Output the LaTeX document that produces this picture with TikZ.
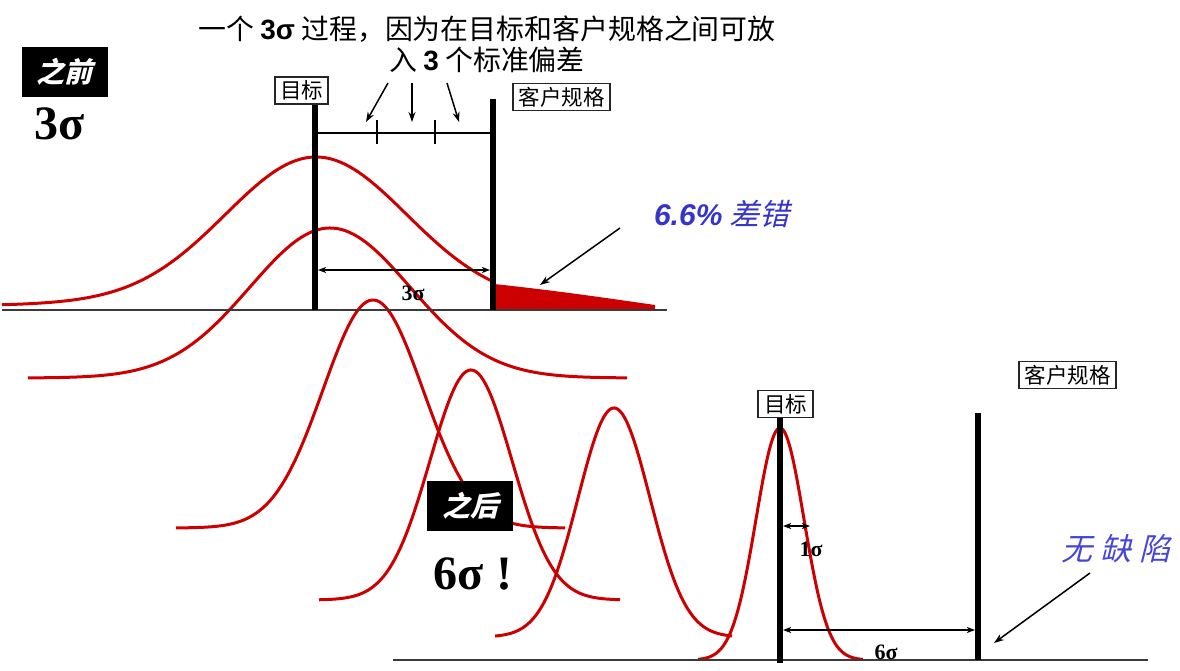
\documentclass[tikz,border=0pt]{standalone}
\usepackage{fontspec}
\setmainfont{Liberation Serif}
\newfontfamily\cjk{Noto Sans CJK SC}
\newfontfamily\cjkslant[FakeSlant=0.25]{Noto Sans CJK SC}
\newfontfamily\arialfont{Liberation Sans}
\usepackage{tikz}
\usetikzlibrary{arrows.meta,positioning}
\definecolor{sixred}{HTML}{CC0000}
\definecolor{noteblue}{HTML}{3535C8}
\definecolor{okblue}{HTML}{4646D6}
\definecolor{axisgray}{HTML}{3A3A3A}

\tikzset{
	bell/.style={draw=sixred,line width=3pt},
	limit/.style={line width=6pt},
	axis/.style={draw=axisgray,line width=2.4pt},
	tagbox/.style={draw=black!85,line width=1.6pt,fill=white,inner xsep=5pt,inner ysep=0pt,minimum height=27pt,font=\cjk\fontsize{21.5}{24}\selectfont},
	stagebox/.style={fill=black,text=white,minimum width=86pt,minimum height=50pt,font=\cjkslant\bfseries\fontsize{28}{30}\selectfont},
	bigsigma/.style={font=\bfseries\fontsize{48}{50}\selectfont,inner sep=0pt},
	smallsigma/.style={font=\bfseries\fontsize{22}{24}\selectfont,inner sep=0pt},
	pointer/.style={-{Stealth[length=10pt,width=7pt]},line width=1.5pt},
	dimarrow/.style={{Stealth[length=8pt,width=6pt,inset=2pt]}-{Stealth[length=8pt,width=6pt,inset=2pt]},line width=1.4pt},
	note/.style={inner sep=0pt}
}

\begin{document}
\begin{tikzpicture}[x=1pt,y=-1pt]
	
	\useasboundingbox (0,0) rectangle (1180,671);
	
	% drifting curves
	\draw[bell] plot[domain=2:494,samples=150]
	(\x,{307-150*(0.95*exp(-0.5*((\x-316)/90)*((\x-316)/90))+0.05*exp(-0.5*((\x-316)/190)*((\x-316)/190)))});
	\draw[bell] plot[domain=28:627,samples=150]
	(\x,{378-150*exp(-0.5*((\x-330)/80)*((\x-330)/80))});
	\draw[bell] plot[domain=176:565,samples=150]
	(\x,{528-228*exp(-0.5*((\x-373)/50)*((\x-373)/50))});
	\draw[bell] plot[domain=319:620,samples=150]
	(\x,{600-230*exp(-0.5*((\x-471)/41)*((\x-471)/41))});
	\draw[bell] plot[domain=495:732,samples=150]
	(\x,{637-229*exp(-0.5*((\x-614)/36)*((\x-614)/36))});
	\draw[bell] plot[domain=698:863,samples=150]
	(\x,{660-232*exp(-0.5*((\x-780)/24)*((\x-780)/24))});
	
	% out of spec tail
	\fill[sixred] (494,284) .. controls (560,291) and (620,300) .. (655,305)
	-- (655,310) -- (494,310) -- cycle;
	
	% axes
	\coordinate (axisAl) at (2,310);
	\coordinate (axisAr) at (667,310);
	\coordinate (axisBl) at (393,660);
	\coordinate (axisBr) at (1148,660);
	\draw[axis] (axisAl) -- (axisAr);
	\draw[axis] (axisBl) -- (axisBr);
	
	% target and spec limits
	\coordinate (tgtAtop) at (315,103);
	\coordinate (tgtAbot) at (315,310);
	\coordinate (limAtop) at (493,99);
	\coordinate (limAbot) at (493,310);
	\coordinate (tgtBtop) at (780,418);
	\coordinate (tgtBbot) at (780,663);
	\coordinate (limBtop) at (978,413);
	\coordinate (limBbot) at (978,660);
	\draw[limit] (tgtAtop) -- (tgtAbot);
	\draw[limit] (limAtop) -- (limAbot);
	\draw[limit] (tgtBtop) -- (tgtBbot);
	\draw[limit] (limBtop) -- (limBbot);
	
	% three sigma scale
	\coordinate (scaleL) at (318,133);
	\coordinate (scaleR) at (490,133);
	\draw[line width=1.4pt] (scaleL) -- (scaleR);
	\foreach \t/\tx in {1/377,2/435}{
		\coordinate (tick\t) at (\tx,133);
		\draw[line width=1.4pt] ([yshift=-11pt]tick\t) -- ([yshift=13pt]tick\t);
	}
	
	% dimension arrows
	\coordinate (dimAl) at (318,270);
	\coordinate (dimAr) at (490,270);
	\coordinate (oneL) at (783,526);
	\coordinate (oneR) at (810,526);
	\coordinate (sixL) at (783,630);
	\coordinate (sixR) at (975,630);
	\draw[dimarrow] (dimAl) -- (dimAr);
	\draw[dimarrow] (oneL) -- (oneR);
	\draw[dimarrow] (sixL) -- (sixR);
	\node[smallsigma] (threelbl) at (413,293) {3σ};
	\node[smallsigma] (onelbl) at (811,549) {1σ};
	\node[smallsigma] (sixlbl) at (886,652) {6σ};
	
	% labels
	\node[align=center,font=\cjk\fontsize{27.9}{31}\selectfont,inner sep=0pt]
	(claim) at (487,44)
	{一个 {\arialfont\bfseries 3σ} 过程，因为在目标和客户规格之间可放\\
		入 {\arialfont\bfseries 3} 个标准偏差};
	
	\node[tagbox,minimum width=53pt] (tgtA) at (301.5,90.5) {目标};
	\node[tagbox,minimum width=97pt] (limA) at (561.5,97) {客户规格};
	\node[tagbox,minimum width=55pt] (tgtB) at (785.5,404) {目标};
	\node[tagbox,minimum width=97pt] (limB) at (1067.5,375) {客户规格};
	
	\node[stagebox] (before) at (64.5,72) {之前};
	\node[bigsigma] (beforesig) at (60,124) {3σ};
	\node[stagebox] (after) at (470,505.5) {之后};
	\node[bigsigma] (aftersig) at (473,573.5) {6σ !};
	
	\node[note,text=noteblue,font=\fontsize{30}{32}\selectfont]
	(err) at (722,214)
	{{\arialfont\bfseries\itshape 6.6\%} {\cjkslant 差错}};
	\node[note,text=okblue,font=\cjkslant\fontsize{31}{33}\selectfont]
	(ok) at (1116,549)
	{无\hspace{8pt}缺\hspace{8pt}陷};
	
	% pointers
	\coordinate (sd1from) at (388,83);
	\coordinate (sd1to) at (366,122);
	\coordinate (sd2from) at (412,83);
	\coordinate (sd2to) at (412,122);
	\coordinate (sd3from) at (447,83);
	\coordinate (sd3to) at (459,122);
	\draw[pointer] (sd1from) -- (sd1to);
	\draw[pointer] (sd2from) -- (sd2to);
	\draw[pointer] (sd3from) -- (sd3to);
	
	\coordinate (errfrom) at (620,228);
	\coordinate (errto) at (540,285);
	\draw[pointer] (errfrom) -- (errto);
	\coordinate (okfrom) at (1090,573);
	\coordinate (okto) at (994,643);
	\draw[pointer] (okfrom) -- (okto);
	
\end{tikzpicture}
\end{document}
